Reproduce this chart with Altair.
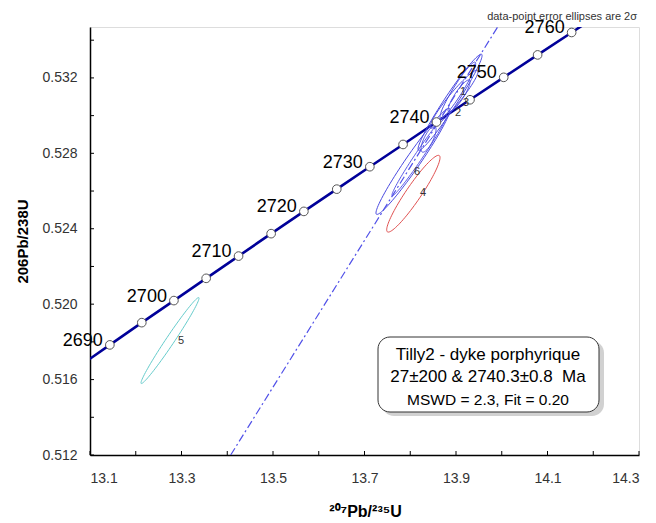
import altair as alt
import numpy as np
import pandas as pd

# Concordia curve points (every 5 Ma)
conc_age = [2685, 2690, 2695, 2700, 2705, 2710, 2715, 2720, 2725, 2730, 2735,
            2740, 2745, 2750, 2755, 2760, 2765]
conc_x = [13.0739, 13.1434, 13.2132, 13.2834, 13.3539, 13.4247, 13.4959, 13.5675,
          13.6394, 13.7117, 13.7843, 13.8573, 13.9306, 14.0043, 14.0784, 14.1528, 14.2276]
conc_y = [0.51666, 0.51784, 0.51902, 0.52019, 0.52137, 0.52255, 0.52374, 0.52492,
          0.52610, 0.52729, 0.52847, 0.52966, 0.53084, 0.53203, 0.53322, 0.53441, 0.53560]
marker_min, marker_max = 2690, 2760
labeled_ages = [2690, 2700, 2710, 2720, 2730, 2740, 2750, 2760]

# Discordia (regression) line end points
disc_x = [13.4075, 13.991]
disc_y = [0.512, 0.5347]

# Error ellipses (2 sigma): centre, half-widths, correlation
ell_id = ["5", "4", "6", "6b", "1", "2", "3", "7", "8"]
ell_cx = [13.2749, 13.8068, 13.806, 13.820, 13.887, 13.8956, 13.904, 13.840, 13.9066]
ell_cy = [0.51807, 0.525858, 0.527575, 0.52790, 0.53071, 0.53087, 0.53135, 0.52875, 0.53104]
ell_sx = [0.0634, 0.0583, 0.0809, 0.060, 0.070, 0.0525, 0.039, 0.0164, 0.024]
ell_sy = [0.00228, 0.002036, 0.002815, 0.00215, 0.00255, 0.00154, 0.00149, 0.00069, 0.00085]
ell_rho = [0.985, 0.94, 0.972, 0.985, 0.972, 0.95, 0.95, 0.75, 0.88]
ell_col = ["#66cccc", "#e05050", "#4a4ae0", "#5a5ae8", "#4a4ae0", "#4a4ae0", "#4a4ae0",
           "#4a4ae0", "#4a4ae0"]

# Ellipse number labels
lab_txt = ["5", "4", "6", "1", "3", "2"]
lab_x = [13.299, 13.828, 13.815, 13.9153, 13.9219, 13.9044]
lab_y = [0.51807, 0.52588, 0.5270, 0.53124, 0.53066, 0.53013]

x_ticks = [13.1, 13.2, 13.3, 13.4, 13.5, 13.6, 13.7, 13.8, 13.9, 14.0, 14.1, 14.2, 14.3]
x_labels = [13.1, 13.3, 13.5, 13.7, 13.9, 14.1, 14.3]
y_ticks = [0.512, 0.514, 0.516, 0.518, 0.520, 0.522, 0.524, 0.526, 0.528, 0.530, 0.532, 0.534]
y_labels = [0.512, 0.516, 0.520, 0.524, 0.528, 0.532]

box_lines = ["Tilly2 - dyke porphyrique", "27±200 & 2740.3±0.8\u00a0\u00a0Ma",
             "MSWD = 2.3, Fit = 0.20"]
note = "data-point error ellipses are 2σ"

W, H = 549, 428
FONT = "Liberation Sans"
XD = [13.1, 14.3]
YD = [0.512, 0.5347]

xs = alt.Scale(domain=XD, nice=False, zero=False)
ys = alt.Scale(domain=YD, nice=False, zero=False)

conc = pd.DataFrame({"age": conc_age, "x": conc_x, "y": conc_y})
marks = conc[(conc.age >= marker_min) & (conc.age <= marker_max)]
labs = conc[conc.age.isin(labeled_ages)].assign(t=lambda d: d.age.astype(str))

rows = []
t = np.linspace(0, 2 * np.pi, 91)
for i, eid in enumerate(ell_id):
    r = ell_rho[i]
    ex = ell_cx[i] + ell_sx[i] * np.cos(t)
    ey = ell_cy[i] + ell_sy[i] * (r * np.cos(t) + np.sqrt(1 - r * r) * np.sin(t))
    for k in range(len(t)):
        rows.append({"id": eid, "k": k, "x": ex[k], "y": ey[k], "col": ell_col[i]})
ell = pd.DataFrame(rows)

base_x = alt.X("x:Q", scale=xs, title="²⁰⁷Pb/²³⁵U",
               axis=alt.Axis(values=x_labels, format=".1f", tickSize=0, grid=False,
                             domainColor="black", domainWidth=1.5,
                             labelFont=FONT, labelFontSize=14, labelColor="#333",
                             labelPadding=16, titleFont=FONT, titleFontSize=16,
                             titleFontWeight="bold", titleColor="black",
                             titleX=275, titleY=56, titleBaseline="middle"))
base_y = alt.Y("y:Q", scale=ys, title="206Pb/238U",
               axis=alt.Axis(values=y_labels, format=".3f", tickSize=0, grid=False,
                             domainColor="black", domainWidth=1.5,
                             labelFont=FONT, labelFontSize=14, labelColor="#333",
                             labelPadding=13, titleFont=FONT, titleFontSize=15,
                             titleFontWeight="bold", titleColor="black",
                             titleX=-68, titleY=214, titleAngle=270,
                             titleBaseline="middle", titleAlign="center"))

ellipses = alt.Chart(ell).mark_line(strokeWidth=1, clip=True).encode(
    x=alt.X("x:Q", scale=xs), y=alt.Y("y:Q", scale=ys),
    detail="id:N", order="k:Q", color=alt.Color("col:N", scale=None))

disc = alt.Chart(pd.DataFrame({"x": disc_x, "y": disc_y})).mark_line(
    color="#5050e8", strokeWidth=1.2, strokeDash=[8, 3, 2, 3], clip=True).encode(
    x=alt.X("x:Q", scale=xs), y=alt.Y("y:Q", scale=ys))

line = alt.Chart(conc).mark_line(color="#000099", strokeWidth=2.6, clip=True).encode(
    x=base_x, y=base_y, order="age:Q")

pts = alt.Chart(marks).mark_point(filled=True, fill="white", stroke="#555",
                                  strokeWidth=1, size=75, opacity=1).encode(
    x=alt.X("x:Q", scale=xs), y=alt.Y("y:Q", scale=ys))

agetxt = alt.Chart(labs).mark_text(font=FONT, fontSize=18, align="right",
                                   baseline="alphabetic", dx=-7, dy=1, color="black").encode(
    x=alt.X("x:Q", scale=xs), y=alt.Y("y:Q", scale=ys), text="t:N")

numtxt = alt.Chart(pd.DataFrame({"x": lab_x, "y": lab_y, "t": lab_txt})).mark_text(
    font=FONT, fontSize=11, color="#333").encode(
    x=alt.X("x:Q", scale=xs), y=alt.Y("y:Q", scale=ys), text="t:N")

xt = alt.Chart(pd.DataFrame({"x": x_ticks})).mark_rule(color="black", strokeWidth=1).encode(
    x=alt.X("x:Q", scale=xs), y=alt.value(H - 4), y2=alt.value(H))
yt = alt.Chart(pd.DataFrame({"y": y_ticks})).mark_rule(color="black", strokeWidth=1).encode(
    y=alt.Y("y:Q", scale=ys), x=alt.value(0), x2=alt.value(4))

shadow = alt.Chart(pd.DataFrame({"a": [0]})).mark_rect(
    cornerRadius=12, fill="#999", opacity=0.45).encode(
    x=alt.value(292), x2=alt.value(514), y=alt.value(314), y2=alt.value(389))
box = alt.Chart(pd.DataFrame({"a": [0]})).mark_rect(
    cornerRadius=12, fill="white", stroke="#333", strokeWidth=1).encode(
    x=alt.value(288), x2=alt.value(509), y=alt.value(310), y2=alt.value(385))
bt = alt.Chart(pd.DataFrame({"t": box_lines, "yy": [328, 350, 373],
                             "fs": [17, 17, 15.5]})).mark_text(
    font=FONT, color="black", align="center", baseline="middle").encode(
    x=alt.value(398), y=alt.Y("yy:Q", scale=None), text="t:N",
    size=alt.Size("fs:Q", scale=None))

notetxt = alt.Chart(pd.DataFrame({"t": [note]})).mark_text(
    font=FONT, fontSize=11, color="#333", align="right", baseline="alphabetic").encode(
    x=alt.value(547), y=alt.value(-7), text="t:N")

chart = alt.layer(line, xt, yt, ellipses, disc, pts, agetxt, numtxt,
                  shadow, box, bt, notetxt).properties(
    width=W, height=H,
    autosize=alt.AutoSizeParams(type="none"),
    padding={"left": 82, "top": 19, "right": 9, "bottom": 66},
).configure_view(stroke="#888", strokeWidth=1).configure(background="white")

chart.save("out.html", embed_options={"renderer": "svg", "actions": False})
